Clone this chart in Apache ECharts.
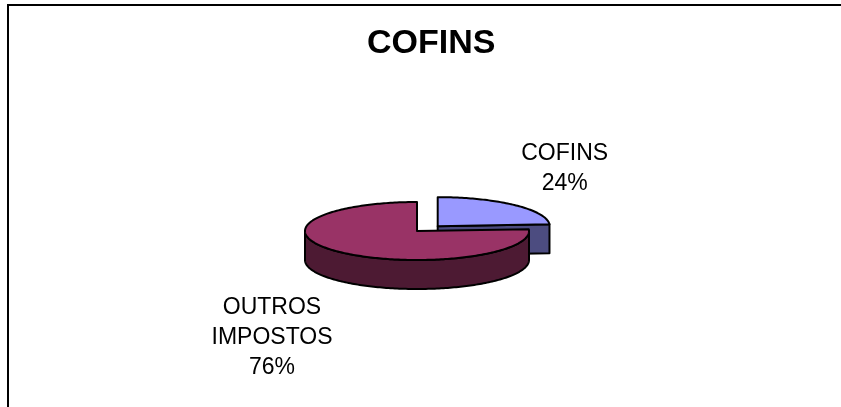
<!DOCTYPE html>
<html>
<head>
<meta charset="utf-8">
<script src="https://cdn.jsdelivr.net/npm/echarts@6/dist/echarts.min.js"></script>
<style>
html, body { margin: 0; padding: 0; background: #fff; }
#chart { width: 841px; height: 407px; }
</style>
</head>
<body>
<div id="chart"></div>
<script>
// data
var categories = ['COFINS', 'OUTROS IMPOSTOS'];
var values = [24, 76];

// look
var topColors = ['#9999FF', '#993366'];
var sideColors = ['#4C4C80', '#4D1A33'];
var explode = [0.27, 0];
var labelShift = [[127, -57], [-145, 107]];

var dom = document.getElementById('chart');
var myChart = echarts.init(dom);

var total = 0;
for (var i = 0; i < values.length; i++) total += values[i];

// pie geometry (3D ellipse)
var cx = 417, cy = 231, rx = 112, ry = 29, depth = 29;

function pt(x0, y0, th, dy) {
    return [x0 + rx * Math.sin(th), y0 - ry * Math.cos(th) + (dy || 0)];
}
function arc(x0, y0, a0, a1, dy) {
    var pts = [];
    var n = Math.max(2, Math.ceil(Math.abs(a1 - a0) / 0.02));
    for (var k = 0; k <= n; k++) {
        pts.push(pt(x0, y0, a0 + (a1 - a0) * k / n, dy));
    }
    return pts;
}

function renderItem(params, api) {
    var idx = params.dataIndex;
    var before = 0;
    for (var j = 0; j < idx; j++) before += values[j];
    var a0 = before / total * Math.PI * 2;
    var a1 = (before + api.value(0)) / total * Math.PI * 2;
    var mid = (a0 + a1) / 2;
    var ox = cx + explode[idx] * rx * Math.sin(mid);
    var oy = cy - explode[idx] * ry * Math.cos(mid) * 0.85;
    var line = { stroke: '#000', lineWidth: 2, lineJoin: 'round' };
    var children = [];

    // radial walls facing the viewer
    [[a0, a0 - Math.PI / 2], [a1, a1 + Math.PI / 2]].forEach(function (w) {
        if (Math.cos(w[1]) < -0.01) {
            var p = pt(ox, oy, w[0]);
            children.push({
                type: 'polygon',
                shape: { points: [[ox, oy], p, [p[0], p[1] + depth], [ox, oy + depth]] },
                style: Object.assign({ fill: sideColors[idx] }, line)
            });
        }
    });

    // front curved wall
    var s = Math.max(a0, Math.PI / 2), e = Math.min(a1, Math.PI * 1.5);
    if (e > s) {
        var top = arc(ox, oy, s, e, 0);
        var bot = arc(ox, oy, s, e, depth).reverse();
        children.push({
            type: 'polygon',
            shape: { points: top.concat(bot) },
            style: Object.assign({ fill: sideColors[idx] }, line)
        });
    }

    // top face
    children.push({
        type: 'polygon',
        shape: { points: [[ox, oy]].concat(arc(ox, oy, a0, a1, 0)) },
        style: Object.assign({ fill: topColors[idx] }, line)
    });

    // label
    var pct = Math.round(api.value(0) / total * 100);
    children.push({
        type: 'text',
        style: {
            x: ox + labelShift[idx][0],
            y: oy + labelShift[idx][1],
            text: categories[idx].replace(' ', '\n') + '\n' + pct + '%',
            fill: '#000',
            fontSize: 23,
            fontFamily: 'Liberation Sans, Arial, sans-serif',
            lineHeight: 30,
            align: 'center',
            verticalAlign: 'middle'
        }
    });

    return { type: 'group', children: children };
}

var seriesData = [];
for (var i = 0; i < values.length; i++) {
    seriesData.push({ name: categories[i], value: values[i] });
}

var option = {
    backgroundColor: '#fff',
    animation: false,
    title: {
        text: 'COFINS',
        left: 367,
        top: 27,
        padding: 0,
        textStyle: {
            fontSize: 34,
            fontWeight: 'bold',
            fontFamily: 'Liberation Sans, Arial, sans-serif',
            color: '#000'
        }
    },
    graphic: [{
        type: 'polyline',
        shape: { points: [[8, 410], [8, 5], [845, 5]] },
        style: { stroke: '#000', lineWidth: 2, fill: null }
    }],
    series: [{
        type: 'custom',
        coordinateSystem: 'none',
        renderItem: renderItem,
        data: seriesData
    }]
};

if (option && typeof option === "object") {
    myChart.setOption(option, true);
}
</script>
</body>
</html>
